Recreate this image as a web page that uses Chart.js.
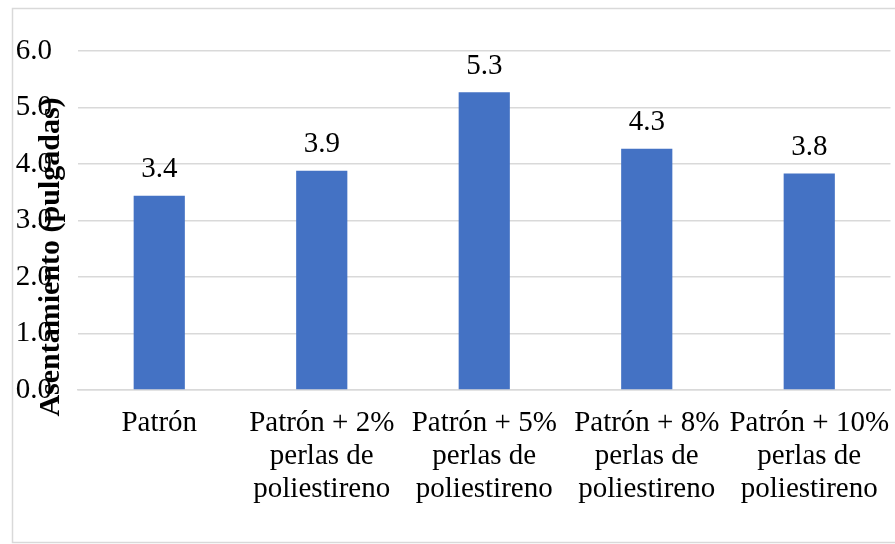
<!DOCTYPE html>
<html>
<head>
<meta charset="utf-8">
<script src="https://cdn.jsdelivr.net/npm/chart.js@4/dist/chart.umd.min.js"></script>
<style>
  html, body { margin: 0; padding: 0; background: #fff; }
  #wrap { width: 895px; height: 544px; position: relative; }
</style>
</head>
<body>
<div id="wrap"><canvas id="chart" width="895" height="544"></canvas></div>
<script>
// Categories (multi-line axis labels)
const categories = [
  ["Patrón"],
  ["Patrón + 2%", "perlas de", "poliestireno"],
  ["Patrón + 5%", "perlas de", "poliestireno"],
  ["Patrón + 8%", "perlas de", "poliestireno"],
  ["Patrón + 10%", "perlas de", "poliestireno"]
];
// Slump values (inches)
const asentamiento = [3.44, 3.88, 5.27, 4.27, 3.83];
// Y axis tick values and title
const yTicks = [0, 1, 2, 3, 4, 5, 6];
const yTitle = "Asentamiento (pulgadas)";

const FONT = "'Liberation Serif', 'Times New Roman', serif";
const GRID = "#d9d9d9";

// White background and frame around the chart
const framePlugin = {
  id: 'frame',
  beforeDraw(chart) {
    const ctx = chart.ctx;
    ctx.save();
    ctx.fillStyle = '#fff';
    ctx.fillRect(0, 0, chart.width, chart.height);
    ctx.strokeStyle = GRID;
    ctx.lineWidth = 1.5;
    ctx.strokeRect(12.5, 8.5, chart.width + 10, 534);
    ctx.restore();
  }
};

// Value labels above each bar, plus the rotated y axis title
const labelPlugin = {
  id: 'valueLabels',
  afterDatasetsDraw(chart) {
    const ctx = chart.ctx;
    const meta = chart.getDatasetMeta(0);
    ctx.save();
    ctx.font = "29px " + FONT;
    ctx.fillStyle = '#000';
    ctx.textAlign = 'center';
    ctx.textBaseline = 'alphabetic';
    meta.data.forEach((bar, i) => {
      const v = chart.data.datasets[0].data[i];
      ctx.fillText(v.toFixed(1), bar.x, bar.y - 18.5);
    });
    ctx.restore();

    ctx.save();
    ctx.font = "bold 30px " + FONT;
    ctx.fillStyle = '#000';
    ctx.textAlign = 'center';
    ctx.textBaseline = 'alphabetic';
    ctx.translate(59, 257);
    ctx.rotate(-Math.PI / 2);
    ctx.fillText(yTitle, 0, 0);
    ctx.restore();
  }
};

new Chart(document.getElementById('chart'), {
  type: 'bar',
  data: {
    labels: categories,
    datasets: [{
      data: asentamiento,
      backgroundColor: '#4472c4',
      borderWidth: 0,
      barPercentage: 0.63,
      categoryPercentage: 0.5
    }]
  },
  options: {
    responsive: false,
    animation: false,
    devicePixelRatio: 1,
    layout: { padding: { top: 51, right: 4.5, bottom: 0, left: 0 } },
    plugins: {
      legend: { display: false },
      tooltip: { enabled: false },
      title: { display: false }
    },
    scales: {
      x: {
        grid: { display: false, drawTicks: false },
        border: { display: true, color: GRID, width: 1.5 },
        ticks: {
          color: '#000',
          padding: 17,
          maxRotation: 0,
          autoSkip: false,
          font: { family: FONT, size: 29, lineHeight: 1.14 }
        },
        afterFit(scale) {
          scale.height = 154;
          scale.paddingLeft = 0;
          scale.paddingRight = 0;
        }
      },
      y: {
        min: 0,
        max: 6,
        afterBuildTicks(scale) { scale.ticks = yTicks.map(v => ({ value: v })); },
        grid: { color: GRID, lineWidth: 1.5, drawTicks: false },
        border: { display: false },
        ticks: {
          color: '#000',
          padding: 26,
          font: { family: FONT, size: 29 },
          callback: v => Number(v).toFixed(1)
        },
        afterFit(scale) {
          scale.width = 78;
          scale.paddingTop = 0;
          scale.paddingBottom = 0;
        }
      }
    }
  },
  plugins: [framePlugin, labelPlugin]
});
</script>
</body>
</html>
